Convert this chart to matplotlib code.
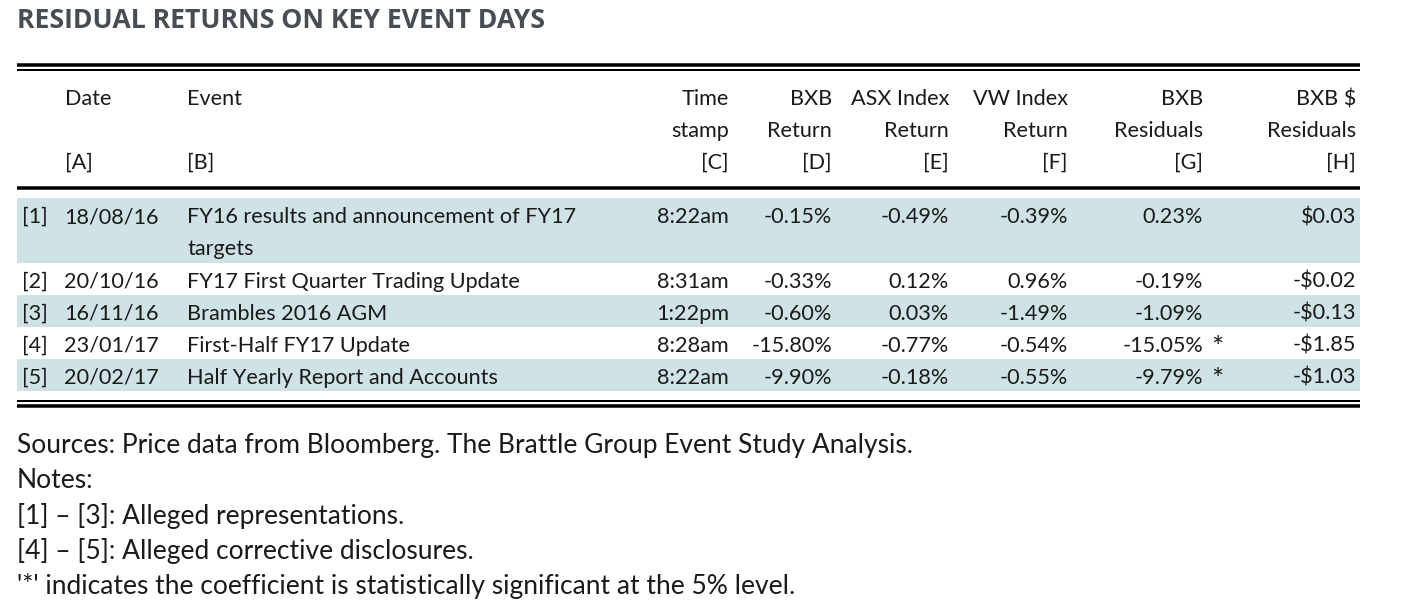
import matplotlib
matplotlib.use("Agg")
import matplotlib.pyplot as plt
from matplotlib.patches import Rectangle

plt.rcParams['font.family'] = ['Lato', 'DejaVu Sans']
plt.rcParams['text.parse_math'] = False

title = "RESIDUAL RETURNS ON KEY EVENT DAYS"

# header cells, three lines each
col_heads = [
    ["Date", "", "[A]"],
    ["Event", "", "[B]"],
    ["Time", "stamp", "[C]"],
    ["BXB", "Return", "[D]"],
    ["ASX Index", "Return", "[E]"],
    ["VW Index", "Return", "[F]"],
    ["BXB", "Residuals", "[G]"],
    ["BXB $", "Residuals", "[H]"],
]

row_ids = ["[1]", "[2]", "[3]", "[4]", "[5]"]
dates = ["18/08/16", "20/10/16", "16/11/16", "23/01/17", "20/02/17"]
events = [
    ["FY16 results and announcement of FY17", "targets"],
    ["FY17 First Quarter Trading Update"],
    ["Brambles 2016 AGM"],
    ["First-Half FY17 Update"],
    ["Half Yearly Report and Accounts"],
]
times = ["8:22am", "8:31am", "1:22pm", "8:28am", "8:22am"]
bxb_ret = [-0.15, -0.33, -0.60, -15.80, -9.90]
asx_ret = [-0.49, 0.12, 0.03, -0.77, -0.18]
vw_ret = [-0.39, 0.96, -1.49, -0.54, -0.55]
bxb_resid = [0.23, -0.19, -1.09, -15.05, -9.79]
signif = [False, False, False, True, True]
bxb_dollar = [0.03, -0.02, -0.13, -1.85, -1.03]

notes = [
    "Sources: Price data from Bloomberg. The Brattle Group Event Study Analysis.",
    "Notes:",
    "[1] \u2013 [3]: Alleged representations.",
    "[4] \u2013 [5]: Alleged corrective disclosures.",
    "'*' indicates the coefficient is statistically significant at the 5% level.",
]

# layout (pixel coords, y down)
W, H = 1408, 612
X0, X1 = 17, 1360
TXT = "#1a1a1a"
SHADE = "#cfe2e6"
FS = 15.6
LINE_H = 32

fig = plt.figure(figsize=(W / 100, H / 100), dpi=100)
ax = fig.add_axes([0, 0, 1, 1])
ax.set_xlim(0, W)
ax.set_ylim(H, 0)
ax.axis("off")

ax.text(X0, 28, title, fontsize=19.2, fontweight="bold", color="#474d54",
        family=["Open Sans", "DejaVu Sans"], ha="left", va="baseline")

def rule(y, px):
    ax.plot([X0, X1], [y, y], color="black", lw=px * 0.72, solid_capstyle="butt")

rule(65, 3.5)
rule(69.5, 2)
rule(188, 3.5)
rule(401, 2)
rule(405.5, 3.5)

# column anchors: (x, ha)
col_x = [(65, "left"), (187, "left"), (729, "right"), (832, "right"),
         (949, "right"), (1068, "right"), (1203, "right"), (1356, "right")]

head_base = [105, 137, 169]
for (x, ha), lines in zip(col_x, col_heads):
    for yb, s in zip(head_base, lines):
        if s:
            ax.text(x, yb, s, fontsize=FS, color=TXT, ha=ha, va="baseline")

def pct(v):
    return f"{v:.2f}%"

def dollar(v):
    return ("-" if v < 0 else "") + f"${abs(v):.2f}"

y_top = 198
for i in range(len(row_ids)):
    n = len(events[i])
    h = n * LINE_H + (1 if i == 0 else 0)
    if i % 2 == 0:
        ax.add_patch(Rectangle((X0, y_top), X1 - X0, h, color=SHADE, lw=0))
    yb = y_top + 25
    ax.text(22, yb, row_ids[i], fontsize=FS, color=TXT, ha="left", va="baseline")
    ax.text(64, yb, dates[i], fontsize=FS, color=TXT, ha="left", va="baseline")
    for k, s in enumerate(events[i]):
        ax.text(187, yb + k * LINE_H, s, fontsize=FS, color=TXT, ha="left", va="baseline")
    ax.text(729, yb, times[i], fontsize=FS, color=TXT, ha="right", va="baseline")
    ax.text(832, yb, pct(bxb_ret[i]), fontsize=FS, color=TXT, ha="right", va="baseline")
    ax.text(949, yb, pct(asx_ret[i]), fontsize=FS, color=TXT, ha="right", va="baseline")
    ax.text(1068, yb, pct(vw_ret[i]), fontsize=FS, color=TXT, ha="right", va="baseline")
    ax.text(1203, yb, pct(bxb_resid[i]), fontsize=FS, color=TXT, ha="right", va="baseline")
    if signif[i]:
        ax.text(1211, yb + 5, "*", fontsize=FS + 5, color=TXT, ha="left", va="baseline")
    ax.text(1356, yb, dollar(bxb_dollar[i]), fontsize=FS, color=TXT, ha="right", va="baseline")
    y_top += h

for k, s in enumerate(notes):
    ax.text(X0, 453 + k * 35.3, s, fontsize=19, color=TXT, ha="left", va="baseline")

fig.savefig("out.png", dpi=100)
